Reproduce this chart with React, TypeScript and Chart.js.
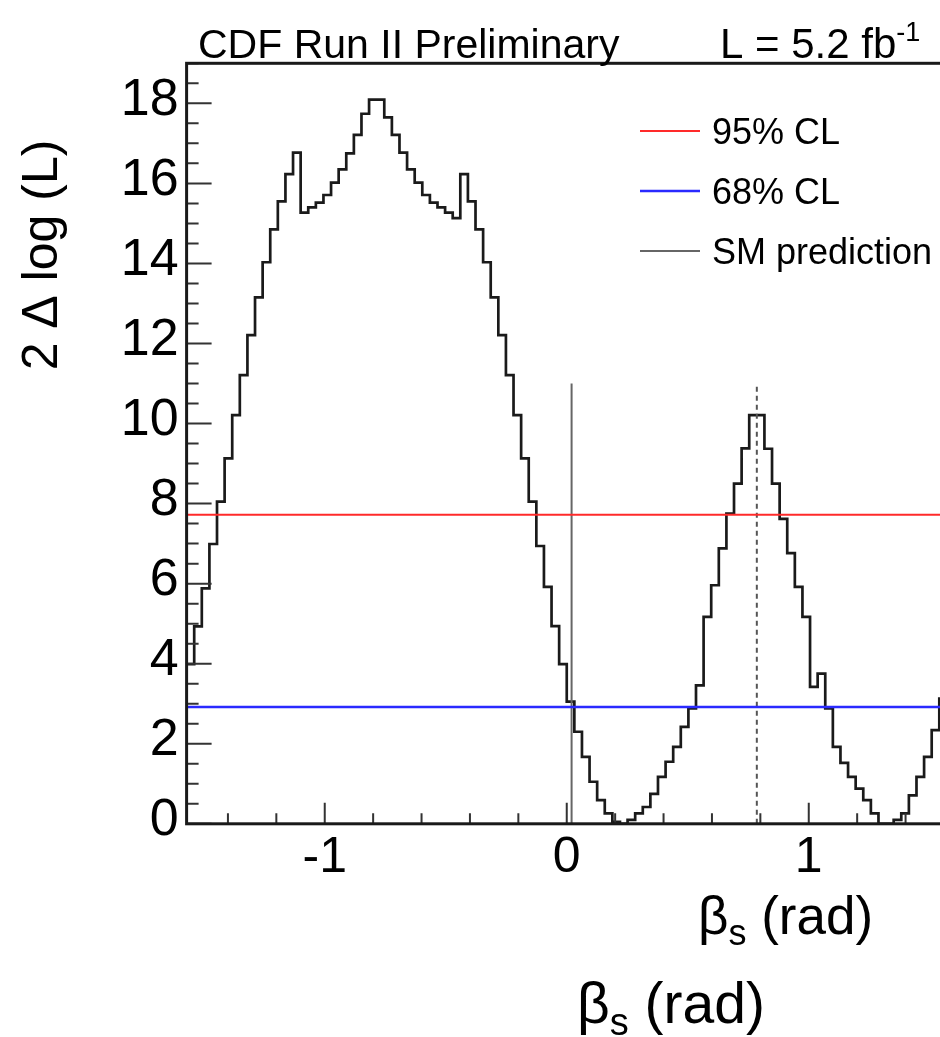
import React, { useEffect, useRef } from "react";
import { Chart, registerables } from "chart.js";

Chart.register(...registerables);

// ---------------- data ----------------
const X_MIN = -Math.PI / 2;
const X_MAX = Math.PI / 2;
const Y_MIN = 0;
const Y_MAX = 19;

// 2 Delta log(L) per bin (100 bins from -pi/2 to pi/2)
const BIN_VALUES = [
  3.99, 4.93, 5.88, 6.99, 8.05, 9.13, 10.21, 11.21, 12.21, 13.15,
  14.03, 14.85, 15.55, 16.23, 16.77, 15.27, 15.4, 15.52, 15.71, 16.02,
  16.35, 16.75, 17.21, 17.74, 18.09, 18.09, 17.65, 17.21, 16.77, 16.35,
  16.02, 15.71, 15.52, 15.4, 15.27, 15.13, 16.23, 15.55, 14.85, 14.03,
  13.15, 12.21, 11.21, 10.21, 9.13, 8.05, 6.94, 5.92, 4.94, 3.99,
  3.05, 2.3, 1.67, 1.05, 0.59, 0.26, 0.05, 0.0, 0.1, 0.26,
  0.42, 0.75, 1.17, 1.55, 1.92, 2.42, 2.88, 3.46, 5.17, 5.96,
  6.88, 7.75, 8.5, 9.38, 10.21, 10.21, 9.37, 8.5, 7.62, 6.76,
  5.92, 5.17, 3.42, 3.75, 2.88, 1.92, 1.52, 1.17, 0.88, 0.59,
  0.26, 0.0, 0.0, 0.1, 0.26, 0.71, 1.17, 1.67, 2.34, 3.13,
];

const CL95_LEVEL = 7.72;
const CL68_LEVEL = 2.92;
const SM_BETA = 0.02;
const SM_LINE_TOP = 11;
const MIRROR_BETA = Math.PI / 4;
const MIRROR_LINE_TOP = 11;

const X_TICKS = [-1, 0, 1];
const Y_TICKS = [0, 2, 4, 6, 8, 10, 12, 14, 16, 18];
const X_MINOR_STEP = 0.2;
const Y_MINOR_STEP = 0.5;

const LEGEND_LABELS = ["95% CL", "68% CL", "SM prediction"];
const TITLE_LEFT = "CDF Run II Preliminary";
const LUMI_TEXT = "L = 5.2 fb";
const LUMI_SUP = "-1";
const X_TITLE_MAIN = "β";
const X_TITLE_SUB = "s";
const X_TITLE_REST = " (rad)";
const Y_TITLE = "2 Δ log (L)";

// ---------------- style ----------------
const FONT = "'Liberation Sans', Arial, Helvetica, sans-serif";
const CANVAS_W = 960;
const CANVAS_H = 1037;

function drawRuns(
  ctx: CanvasRenderingContext2D,
  runs: [string, number, number][],
  x: number,
  y: number
) {
  let cx = x;
  for (const [t, size, dy] of runs) {
    ctx.font = `${size}px ${FONT}`;
    ctx.fillText(t, cx, y + dy);
    cx += ctx.measureText(t).width;
  }
}

const rootStylePlugin = {
  id: "rootStyle",
  afterDraw(chart: any) {
    const { ctx, chartArea: a } = chart;
    const xs = chart.scales.x;
    const ys = chart.scales.y;
    ctx.save();

    // inward tick marks
    ctx.strokeStyle = "#333";
    ctx.lineWidth = 2;
    ctx.beginPath();
    const nY = Math.round((Y_MAX - Y_MIN) / Y_MINOR_STEP);
    for (let k = 0; k <= nY; k++) {
      const v = Y_MIN + k * Y_MINOR_STEP;
      const py = ys.getPixelForValue(v);
      const major = Y_TICKS.includes(v);
      ctx.moveTo(a.left, py);
      ctx.lineTo(a.left + (major ? 25 : 12), py);
    }
    const kMin = Math.ceil(X_MIN / X_MINOR_STEP);
    const kMax = Math.floor(X_MAX / X_MINOR_STEP);
    for (let k = kMin; k <= kMax; k++) {
      const v = k * X_MINOR_STEP;
      const px = xs.getPixelForValue(v);
      const major = X_TICKS.some((t) => Math.abs(t - v) < 1e-9);
      ctx.moveTo(px, a.bottom);
      ctx.lineTo(px, a.bottom - (major ? 21 : 10.5));
    }
    ctx.stroke();

    // frame
    ctx.strokeStyle = "#1a1a1a";
    ctx.lineWidth = 3;
    ctx.strokeRect(a.left, a.top, a.right - a.left, a.bottom - a.top);

    // legend
    ctx.fillStyle = "#000";
    ctx.textAlign = "left";
    ctx.textBaseline = "alphabetic";
    const legendY = [131, 191, 251];
    LEGEND_LABELS.forEach((lab, i) => {
      const ds = chart.data.datasets.find((d: any) => d.label === lab);
      if (!ds) return;
      const ly = legendY[i];
      ctx.strokeStyle = ds.borderColor;
      ctx.lineWidth = ds.borderWidth;
      ctx.setLineDash([]);
      ctx.beginPath();
      ctx.moveTo(640, ly);
      ctx.lineTo(700, ly);
      ctx.stroke();
      ctx.font = `36px ${FONT}`;
      ctx.fillText(lab, 712, ly + 13);
    });

    // header
    ctx.fillStyle = "#000";
    ctx.font = `41px ${FONT}`;
    ctx.fillText(TITLE_LEFT, 198, 58);
    drawRuns(ctx, [[LUMI_TEXT, 42, 0], [LUMI_SUP, 27, -17]], 720, 58);

    // x-axis titles
    drawRuns(
      ctx,
      [[X_TITLE_MAIN, 53, 0], [X_TITLE_SUB, 36, 11], [X_TITLE_REST, 53, 0]],
      698,
      934
    );
    drawRuns(
      ctx,
      [[X_TITLE_MAIN, 57, 0], [X_TITLE_SUB, 38, 12], [X_TITLE_REST, 57, 0]],
      577,
      1023
    );

    // y-axis title
    ctx.save();
    ctx.translate(57, 255);
    ctx.rotate(-Math.PI / 2);
    ctx.textAlign = "center";
    ctx.font = `50px ${FONT}`;
    ctx.fillText(Y_TITLE, 0, 0);
    ctx.restore();

    ctx.restore();
  },
};

export default function App() {
  const canvasRef = useRef<HTMLCanvasElement | null>(null);

  useEffect(() => {
    const canvas = canvasRef.current;
    if (!canvas) return;

    const binWidth = (X_MAX - X_MIN) / BIN_VALUES.length;
    const histPoints: { x: number; y: number }[] = [{ x: X_MIN, y: 0 }];
    BIN_VALUES.forEach((v, i) => {
      histPoints.push({ x: X_MIN + i * binWidth, y: v });
      histPoints.push({ x: X_MIN + (i + 1) * binWidth, y: v });
    });

    const chart = new Chart(canvas, {
      type: "line",
      data: {
        datasets: [
          {
            label: "95% CL",
            data: [
              { x: X_MIN, y: CL95_LEVEL },
              { x: X_MAX, y: CL95_LEVEL },
            ],
            borderColor: "#ff2a2a",
            borderWidth: 2,
            pointRadius: 0,
            order: 1,
          },
          {
            label: "68% CL",
            data: [
              { x: X_MIN, y: CL68_LEVEL },
              { x: X_MAX, y: CL68_LEVEL },
            ],
            borderColor: "#2a2aff",
            borderWidth: 2.5,
            pointRadius: 0,
            order: 1,
          },
          {
            label: "SM prediction",
            data: [
              { x: SM_BETA, y: 0 },
              { x: SM_BETA, y: SM_LINE_TOP },
            ],
            borderColor: "#666",
            borderWidth: 2,
            pointRadius: 0,
            order: 1,
          },
          {
            label: "mirror",
            data: [
              { x: MIRROR_BETA, y: 0 },
              { x: MIRROR_BETA, y: MIRROR_LINE_TOP },
            ],
            borderColor: "#555",
            borderWidth: 2,
            borderDash: [5, 4],
            pointRadius: 0,
            order: 1,
          },
          {
            label: "2 Delta log(L)",
            data: histPoints,
            borderColor: "#1a1a1a",
            borderWidth: 2.7,
            pointRadius: 0,
            tension: 0,
            fill: false,
            order: 10,
          },
        ],
      },
      options: {
        animation: false,
        responsive: false,
        maintainAspectRatio: false,
        devicePixelRatio: 1,
        layout: {
          padding: { left: 0, top: 63.3, right: CANVAS_W - 946.9, bottom: 0 },
        },
        plugins: {
          legend: { display: false },
          tooltip: { enabled: false },
          title: { display: false },
        },
        scales: {
          x: {
            type: "linear",
            min: X_MIN,
            max: X_MAX,
            grid: { display: false, drawTicks: false, tickLength: 0 },
            border: { display: false },
            ticks: {
              autoSkip: false,
              maxRotation: 0,
              padding: 4,
              color: "#000",
              font: { size: 50, family: FONT },
              callback: (v: any) => String(v),
            },
            afterBuildTicks: (s: any) => {
              s.ticks = X_TICKS.map((v) => ({ value: v }));
            },
            afterFit: (s: any) => {
              s.height = CANVAS_H - 823.8;
            },
          },
          y: {
            type: "linear",
            min: Y_MIN,
            max: Y_MAX,
            grid: { display: false, drawTicks: false, tickLength: 0 },
            border: { display: false },
            ticks: {
              autoSkip: false,
              padding: 8,
              labelOffset: -3,
              color: "#000",
              font: { size: 52, family: FONT },
              callback: (v: any) => String(v),
            },
            afterBuildTicks: (s: any) => {
              s.ticks = Y_TICKS.map((v) => ({ value: v }));
            },
            afterFit: (s: any) => {
              s.width = 186.6;
            },
          },
        },
      },
      plugins: [rootStylePlugin],
    });

    return () => {
      chart.destroy();
    };
  }, []);

  return (
    <div
      style={{
        position: "absolute",
        left: 0,
        top: 0,
        width: 940,
        height: CANVAS_H,
        overflow: "hidden",
        background: "#fff",
      }}
    >
      <canvas
        ref={canvasRef}
        width={CANVAS_W}
        height={CANVAS_H}
        style={{ display: "block", width: CANVAS_W, height: CANVAS_H }}
      />
    </div>
  );
}
